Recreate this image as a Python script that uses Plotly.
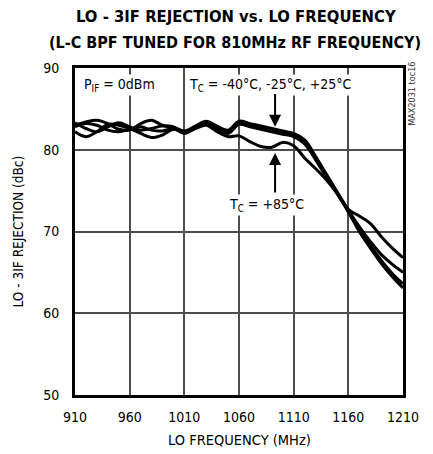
import plotly.graph_objects as go

freq = [910, 920, 930, 940, 950, 960, 970, 980, 990, 1000, 1010, 1020, 1030, 1040, 1050,
        1060, 1070, 1080, 1090, 1100, 1110, 1120, 1130, 1140, 1150, 1160, 1170, 1180, 1190, 1200, 1210]

rej_m40 = [83.0, 83.4, 83.6, 83.2, 82.5, 82.4, 83.2, 83.6, 83.0, 82.8, 82.3, 82.9, 83.5, 82.9, 82.4,
           83.5, 83.2, 82.9, 82.6, 82.3, 82.0, 81.2, 79.2, 77.0, 74.8, 72.6, 70.6, 68.8, 67.2, 66.0, 65.0]
rej_m25 = [83.3, 82.6, 82.2, 82.8, 83.3, 82.8, 82.4, 82.6, 82.9, 82.7, 82.1, 82.7, 83.3, 82.6, 82.2,
           83.3, 83.0, 82.7, 82.4, 82.1, 81.8, 81.0, 79.0, 76.8, 74.6, 72.6, 70.3, 68.3, 66.5, 64.9, 63.6]
rej_p25 = [82.8, 83.2, 83.0, 82.4, 82.2, 82.5, 82.8, 82.4, 82.3, 82.6, 82.0, 82.6, 83.2, 82.5, 82.0,
           83.1, 82.8, 82.5, 82.2, 81.9, 81.6, 80.7, 78.8, 76.6, 74.6, 72.4, 70.0, 68.0, 66.1, 64.5, 63.1]
rej_p85 = [82.2, 81.6, 82.2, 83.1, 83.0, 82.6, 82.0, 81.5, 81.8, 82.5, 82.2, 82.6, 83.0, 82.2, 81.6,
           81.7, 81.0, 80.4, 80.3, 80.9, 80.5, 79.0, 77.7, 76.3, 74.6, 72.7, 71.9, 71.0, 69.4, 68.0, 66.8]

x_ticks = [910, 960, 1010, 1060, 1110, 1160, 1210]
y_ticks = [50, 60, 70, 80, 90]

FONT = "DejaVu Sans Condensed, Liberation Sans Narrow, Liberation Sans, sans-serif"
GRID = "#4d4d4d"

fig = go.Figure()
for ys in [rej_m40, rej_m25, rej_p25, rej_p85]:
    fig.add_trace(go.Scatter(x=freq, y=ys, mode="lines", line=dict(color="black", width=3, shape="spline"),
                             showlegend=False, hoverinfo="skip"))

fig.update_layout(
    width=425, height=446,
    margin=dict(l=67, r=30, t=60, b=59),
    paper_bgcolor="white", plot_bgcolor="white",
    font=dict(family=FONT, color="black", size=14),
)
fig.update_xaxes(range=[910, 1210], tickvals=x_ticks, ticks="outside", ticklen=7,
                 tickcolor="rgba(0,0,0,0)", showgrid=True, gridcolor=GRID, gridwidth=1.6,
                 showline=True, linecolor="black", linewidth=3, mirror=True, zeroline=False,
                 tickfont=dict(size=14))
fig.update_yaxes(range=[50, 90], tickvals=y_ticks, ticks="outside", ticklen=10,
                 tickcolor="rgba(0,0,0,0)", showgrid=True, gridcolor=GRID, gridwidth=1.6,
                 showline=True, linecolor="black", linewidth=3, mirror=True, zeroline=False,
                 tickfont=dict(size=14))

# titles
fig.add_annotation(x=0.49, y=1.156, xref="paper", yref="paper", showarrow=False,
                   text="<b>LO - 3IF REJECTION vs. LO FREQUENCY</b>", xanchor="center", yanchor="middle",
                   font=dict(size=16.5))
fig.add_annotation(x=0.488, y=1.0795, xref="paper", yref="paper", showarrow=False,
                   text="<b>(L-C BPF TUNED FOR 810MHz RF FREQUENCY)</b>", xanchor="center", yanchor="middle",
                   font=dict(size=16))
fig.add_annotation(x=-0.174, y=0.5, xref="paper", yref="paper", showarrow=False, textangle=-90,
                   text="LO - 3IF REJECTION (dBc)", xanchor="center", yanchor="middle", font=dict(size=13.5))
fig.add_annotation(x=0.5, y=-0.1376, xref="paper", yref="paper", showarrow=False,
                   text="LO FREQUENCY (MHz)", xanchor="center", yanchor="middle", font=dict(size=14.5))

fig.add_annotation(x=916, y=87.9, xref="x", yref="y", text="P<sub>IF</sub> = 0dBm", showarrow=False,
                   xanchor="left", yanchor="middle", font=dict(size=14), bgcolor="white")
fig.add_annotation(x=1012, y=87.9, xref="x", yref="y", text="T<sub>C</sub> = -40°C, -25°C, +25°C",
                   showarrow=False, xanchor="left", yanchor="middle", font=dict(size=14), bgcolor="white")
fig.add_annotation(x=1093, y=82.8, ax=1093, ay=87.0, xref="x", yref="y", axref="x", ayref="y",
                   text="", showarrow=True, arrowhead=2, arrowsize=1.2, arrowwidth=2, arrowcolor="black")
fig.add_annotation(x=1093, y=79.6, ax=1093, ay=74.6, xref="x", yref="y", axref="x", ayref="y",
                   text="", showarrow=True, arrowhead=2, arrowsize=1.2, arrowwidth=2, arrowcolor="black")
fig.add_annotation(x=1049, y=73.2, xref="x", yref="y", text="T<sub>C</sub> = +85°C",
                   showarrow=False, xanchor="left", yanchor="middle", font=dict(size=14), bgcolor="white")
fig.add_annotation(x=1.029, y=1.024, xref="paper", yref="paper", text="MAX2031 toc16", textangle=-90,
                   showarrow=False, xanchor="center", yanchor="top", font=dict(size=9, color="#333"))

fig.write_html("out.html")
